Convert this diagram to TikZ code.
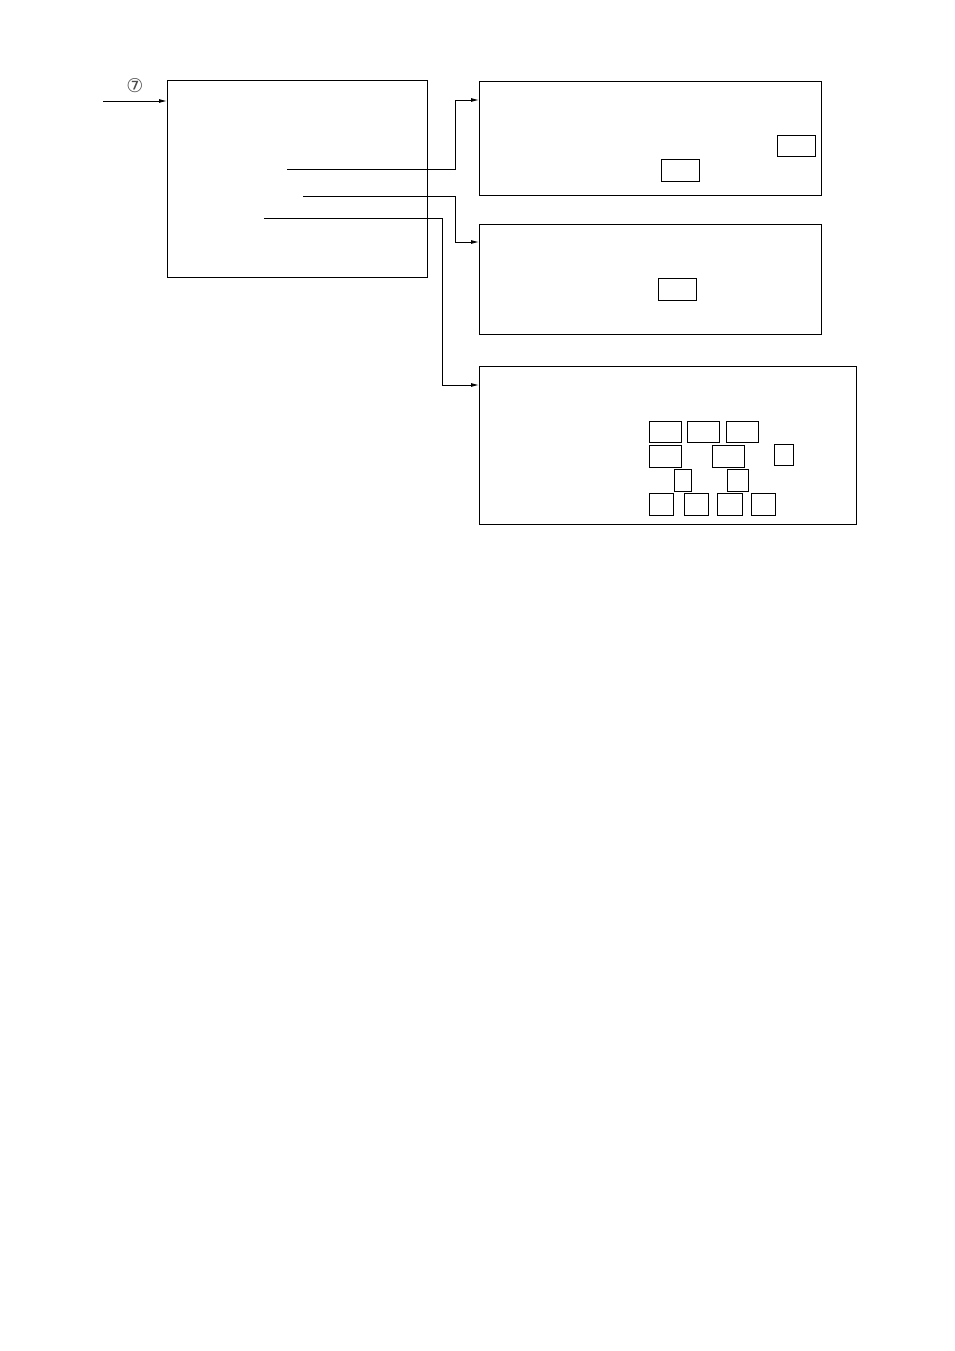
\documentclass[tikz,border=0pt]{standalone}
\usepackage{fontspec}
\newfontfamily\dvfont{DejaVu Sans}
\usetikzlibrary{arrows.meta}
\begin{document}
\begin{tikzpicture}[x=1pt,y=-1pt,
  box/.style={draw=black, line width=0.9pt, inner sep=0pt, anchor=north west},
  conn/.style={draw=black, line width=0.9pt},
  arr/.style={conn, -{Latex[length=8pt,width=4pt]}}]
\useasboundingbox (0,0) rectangle (954,1351);
% main block
\node[box, minimum width=260pt, minimum height=197pt] (main) at (167,80) {};
\coordinate (in) at (103,101);
\draw[arr] (in) -- (in -| main.west);
\node[font=\dvfont\fontsize{19}{19}\selectfont, text=black!70, inner sep=0pt] (seven) at (135,86) {⑦};
% right blocks
\node[box, minimum width=342pt, minimum height=114pt] (b2) at (479,81) {};
\node[box, minimum width=342pt, minimum height=110pt] (b3) at (479,224) {};
\node[box, minimum width=377pt, minimum height=158pt] (b4) at (479,366) {};
% small boxes in b2
\node[box, minimum width=38pt, minimum height=21pt] (b2a) at (777,135) {};
\node[box, minimum width=38pt, minimum height=22pt] (b2b) at (661,159) {};
% small box in b3
\node[box, minimum width=38pt, minimum height=22pt] (b3a) at (658,278) {};
% small boxes in b4
\node[box, minimum width=32pt, minimum height=21pt] (r1a) at (649,421) {};
\node[box, minimum width=32pt, minimum height=21pt] (r1b) at (687,421) {};
\node[box, minimum width=32pt, minimum height=21pt] (r1c) at (726,421) {};
\node[box, minimum width=32pt, minimum height=22pt] (r2a) at (649,445) {};
\node[box, minimum width=32pt, minimum height=22pt] (r2b) at (712,445) {};
\node[box, minimum width=19pt, minimum height=21pt] (r2c) at (774,444) {};
\node[box, minimum width=17pt, minimum height=22pt] (r3a) at (674,469) {};
\node[box, minimum width=21pt, minimum height=22pt] (r3b) at (727,469) {};
\node[box, minimum width=24pt, minimum height=22pt] (r4a) at (649,493) {};
\node[box, minimum width=24pt, minimum height=22pt] (r4b) at (684,493) {};
\node[box, minimum width=25pt, minimum height=22pt] (r4c) at (717,493) {};
\node[box, minimum width=24pt, minimum height=22pt] (r4d) at (751,493) {};
% connectors
\coordinate (s1) at (287,169);
\coordinate (j1) at (455,100);
\draw[arr] (s1) -| (j1) -- (j1 -| b2.west);
\coordinate (s2) at (303,196);
\coordinate (j2) at (455,242);
\draw[arr] (s2) -| (j2) -- (j2 -| b3.west);
\coordinate (s3) at (264,218);
\coordinate (j3) at (442,385);
\draw[arr] (s3) -| (j3) -- (j3 -| b4.west);
\end{tikzpicture}
\end{document}
